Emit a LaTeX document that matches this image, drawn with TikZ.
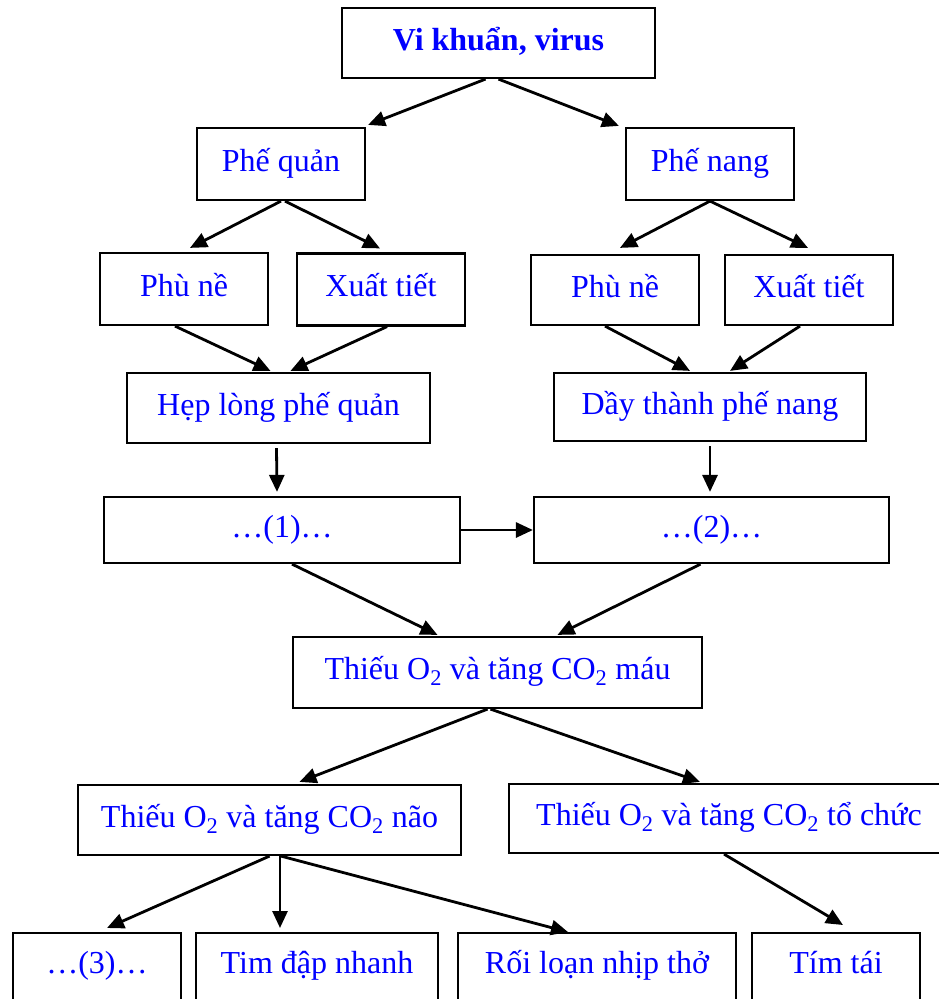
\documentclass[tikz,border=0pt]{standalone}
\usepackage{fontspec}
\setmainfont{Liberation Serif}
\usetikzlibrary{arrows.meta}
\definecolor{txtblue}{RGB}{0,0,255}
\begin{document}
\begin{tikzpicture}[x=1pt,y=-1pt,
  box/.style={draw, line width=2.2pt, text=txtblue, font=\fontsize{32}{38}\selectfont,
              text height=22pt, text depth=8pt, inner sep=0pt},
  bbox/.style={box, anchor=north, text depth=30pt, inner ysep=18pt, inner xsep=0pt},
  arr/.style={line width=2.8pt, -{Triangle[length=17pt,width=15pt]}}]
\useasboundingbox (0,0) rectangle (938,999);

\node[box, minimum width=313pt, minimum height=70pt, font=\fontsize{32}{38}\selectfont\bfseries] (top) at (498.5,43) {Vi khuẩn, virus};
\node[box, minimum width=168pt, minimum height=72pt] (pq) at (281,164) {Phế quản};
\node[box, minimum width=168pt, minimum height=72pt] (pn) at (710,164) {Phế nang};
\node[box, minimum width=168pt, minimum height=72pt] (pn1) at (184,289) {Phù nề};
\node[box, minimum width=168pt, minimum height=72pt] (xt1) at (381,289.5) {Xuất tiết};
\node[box, minimum width=168pt, minimum height=70pt] (pn2) at (615,290) {Phù nề};
\node[box, minimum width=168pt, minimum height=70pt] (xt2) at (809,290) {Xuất tiết};
\node[box, minimum width=303pt, minimum height=70pt] (hep) at (278.5,408) {Hẹp lòng phế quản};
\node[box, minimum width=312pt, minimum height=68pt] (day) at (710,407) {Dầy thành phế nang};
\node[box, minimum width=356pt, minimum height=66pt] (b1) at (282,530) {…(1)…};
\node[box, minimum width=355pt, minimum height=66pt] (b2) at (711.5,530) {…(2)…};
\node[box, minimum width=409pt, minimum height=71pt] (mau) at (497.5,672.5) {Thiếu O\textsubscript{2} và tăng CO\textsubscript{2} máu};
\node[box, minimum width=383pt, minimum height=70pt] (nao) at (269.5,820) {Thiếu O\textsubscript{2} và tăng CO\textsubscript{2} não};
\node[box, minimum width=440pt, minimum height=69pt] (tc) at (729,818.5) {Thiếu O\textsubscript{2} và tăng CO\textsubscript{2} tổ chức};
\node[bbox, minimum width=168pt] (b3) at (97,932) {…(3)…};
\node[bbox, minimum width=242pt] (tim) at (317,932) {Tim đập nhanh};
\node[bbox, minimum width=278pt] (roi) at (597,932) {Rối loạn nhịp thở};
\node[bbox, minimum width=168pt] (tt) at (836,932) {Tím tái};

\draw[arr] ([xshift=-13pt]top.south) -- ([xshift=2pt,yshift=2pt]pq.north east);
\draw[arr] (top.south) -- ([xshift=-6pt,yshift=1pt]pn.north west);
\draw[arr] (pq.south) -- ([xshift=6pt,yshift=4pt]pn1.north);
\draw[arr] ([xshift=4pt]pq.south) -- ([xshift=-1pt,yshift=4pt]xt1.north);
\draw[arr] (pn.south) -- ([xshift=5pt,yshift=6pt]pn2.north);
\draw[arr] (pn.south) -- ([xshift=-1pt,yshift=6pt]xt2.north);
\draw[arr] ([xshift=-9pt]pn1.south) -- ([xshift=-8pt,yshift=1pt]hep.north);
\draw[arr] ([xshift=6pt]xt1.south) -- ([xshift=12pt,yshift=1pt]hep.north);
\draw[arr] ([xshift=-10pt]pn2.south) -- ([xshift=-20pt,yshift=1pt]day.north);
\draw[arr] ([xshift=-9pt]xt2.south) -- ([xshift=20pt,yshift=1pt]day.north);
\draw[arr] ([xshift=-2pt,yshift=-4pt]hep.south) -- ([xshift=-5pt,yshift=4pt]b1.north);
\draw[arr] ([yshift=-4pt]day.south) -- ([xshift=-1.5pt,yshift=4pt]b2.north);
\draw[arr] (b1.east) -- (b2.west);
\draw[arr] ([xshift=10pt]b1.south) -- ([xshift=-60pt,yshift=1pt]mau.north);
\draw[arr] ([xshift=-11pt]b2.south) -- ([xshift=60pt,yshift=1pt]mau.north);
\draw[arr] ([xshift=-10pt]mau.south) -- ([xshift=30pt,yshift=2pt]nao.north);
\draw[arr] ([xshift=-7pt]mau.south) -- ([xshift=-29pt,yshift=1pt]tc.north);
\draw[arr] (nao.south) -- ([xshift=10pt,yshift=4pt]b3.north);
\draw[arr] ([xshift=10.5pt]nao.south) -- ([xshift=-37pt,yshift=4pt]tim.north);
\draw[arr] ([xshift=11.5pt]nao.south) -- ([xshift=-29pt]roi.north);
\draw[arr] ([xshift=-5pt]tc.south) -- ([xshift=7pt,yshift=7pt]tt.north);
\end{tikzpicture}
\end{document}
